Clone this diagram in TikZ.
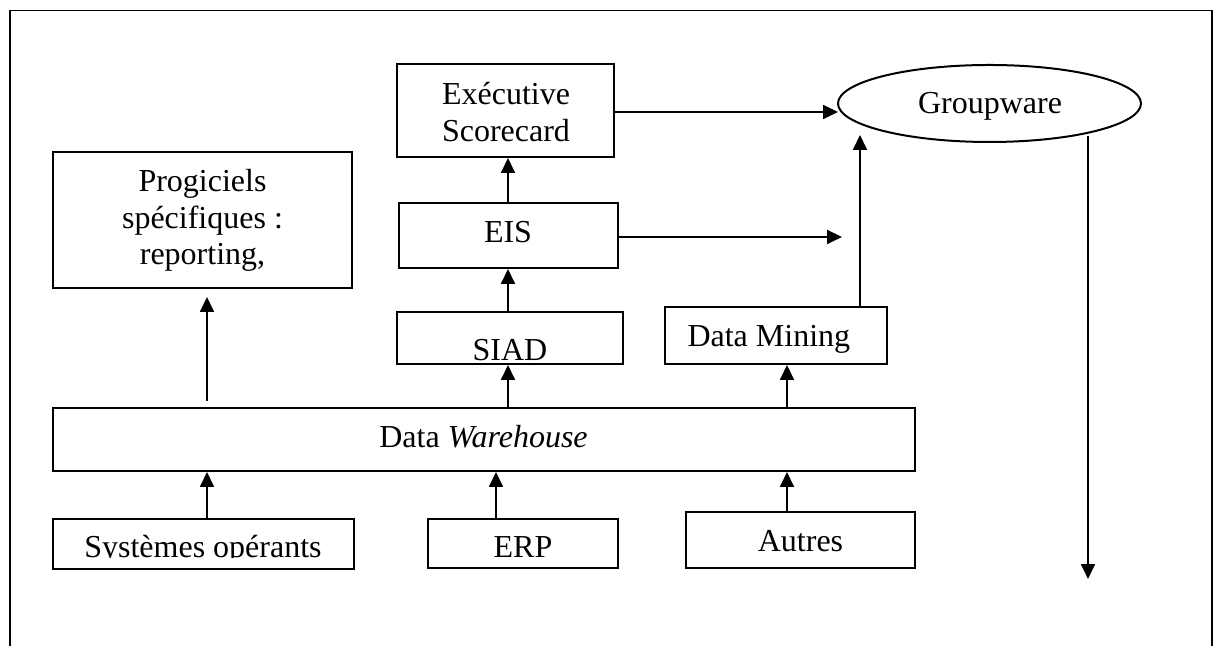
\documentclass[tikz,border=0pt]{standalone}
\usepackage{fontspec}
\setmainfont{Liberation Serif}
\usetikzlibrary{arrows.meta,shapes.geometric,fit,calc}

\tikzset{
  box/.style={draw, line width=0.75pt, inner sep=0pt, rectangle},
  txt/.style={inner sep=0pt, anchor=base, font=\fontsize{12}{13.8}\selectfont},
  arr/.style={line width=0.8pt, -{Triangle[length=5.6pt, width=5.2pt]}},
  frameline/.style={line width=0.6pt}
}

\begin{document}
\begin{tikzpicture}[x=0.375pt, y=-0.375pt]
  \useasboundingbox (0,0) rectangle (1219,646);

  % outer frame (open at the bottom)
  \draw[frameline] (10,646) -- (10,10.5) -- (1212,10.5) -- (1212,646);

  % boxes
  \node[box, fit={(397,64) (614,157)}]   (exec)   {};
  \node[box, fit={(53,152) (352,288)}]   (prog)   {};
  \node[box, fit={(399,203) (618,268)}]  (eis)    {};
  \node[box, fit={(397,312) (623,364)}]  (siad)   {};
  \node[box, fit={(665,307) (887,364)}]  (dm)     {};
  \node[box, fit={(53,408) (915,471)}]   (dw)     {};
  \node[box, fit={(53,519) (354,569)}]   (sys)    {};
  \node[box, fit={(428,519) (618,568)}]  (erp)    {};
  \node[box, fit={(686,512) (915,568)}]  (autres) {};
  \node[draw, ellipse, line width=0.75pt, inner sep=0pt,
        minimum width=303*0.375pt, minimum height=77*0.375pt] (gw) at (989.5,103.5) {};

  % labels
  \node[txt] (execA) at (506,105) {Exécutive};
  \node[txt] (execB) at (506,142) {Scorecard};
  \node[txt] (progA) at (202.5,192) {Progiciels};
  \node[txt] (progB) at (202.5,228.5) {spécifiques :};
  \node[txt] (progC) at (202.5,265) {reporting,};
  \node[txt] (eisT)  at (508,243) {EIS};
  \node[txt] (siadT) at (510,361) {SIAD};
  \node[txt, anchor=base west] (dmT) at (687,347) {Data Mining};
  \node[txt] (dwT)   at (483.5,448) {Data \textit{Warehouse}};
  \begin{scope}
    \clip (53,519) rectangle (354,558);
    \node[txt] (sysT) at (203,558) {Systèmes opérants};
  \end{scope}
  \node[txt] (erpT)  at (523,558) {ERP};
  \node[txt] (autT)  at (800.5,552) {Autres};
  \node[txt] (gwT)   at (990,113.5) {Groupware};

  % connector end points
  \coordinate (progfoot) at (207,401);
  \coordinate (progtip)  at (207,297);
  \coordinate (sysup)    at ($(sys.north)+(3.5,0)$);
  \coordinate (erpup)    at ($(erp.north)+(-27,0)$);
  \coordinate (autup)    at ($(autres.north)+(-13.5,0)$);
  \coordinate (siadin)   at ($(siad.south)+(-2,0)$);
  \coordinate (dmin)     at ($(dm.south)+(11,0)$);
  \coordinate (eisin)    at ($(eis.south)+(-0.5,0)$);
  \coordinate (eisup)    at ($(eis.north)+(-0.5,0)$);
  \coordinate (execout)  at ($(exec.east)+(0,1.5)$);
  \coordinate (gwin)     at (838,112);
  \coordinate (eisout)   at ($(eis.east)+(0,1.5)$);
  \coordinate (eistip)   at (842,237);
  \coordinate (dmtop)    at (860,307);
  \coordinate (gwtip)    at (860,135);
  \coordinate (gwfoot)   at (1088,136);
  \coordinate (gwend)    at (1088,579);

  % connectors
  \draw[arr] (progfoot) -- (progtip);
  \draw[arr] (sysup) -- (sysup |- dw.south);
  \draw[arr] (erpup) -- (erpup |- dw.south);
  \draw[arr] (autup) -- (autup |- dw.south);
  \draw[arr] (siadin |- dw.north) -- (siadin);
  \draw[arr] (dmin |- dw.north) -- (dmin);
  \draw[arr] (eisin |- siad.north) -- (eisin);
  \draw[arr] (eisup) -- (eisup |- exec.south);
  \draw[arr] (execout) -- (gwin);
  \draw[arr] (eisout) -- (eistip);
  \draw[arr] (dmtop) -- (gwtip);
  \draw[arr] (gwfoot) -- (gwend);
\end{tikzpicture}
\end{document}
